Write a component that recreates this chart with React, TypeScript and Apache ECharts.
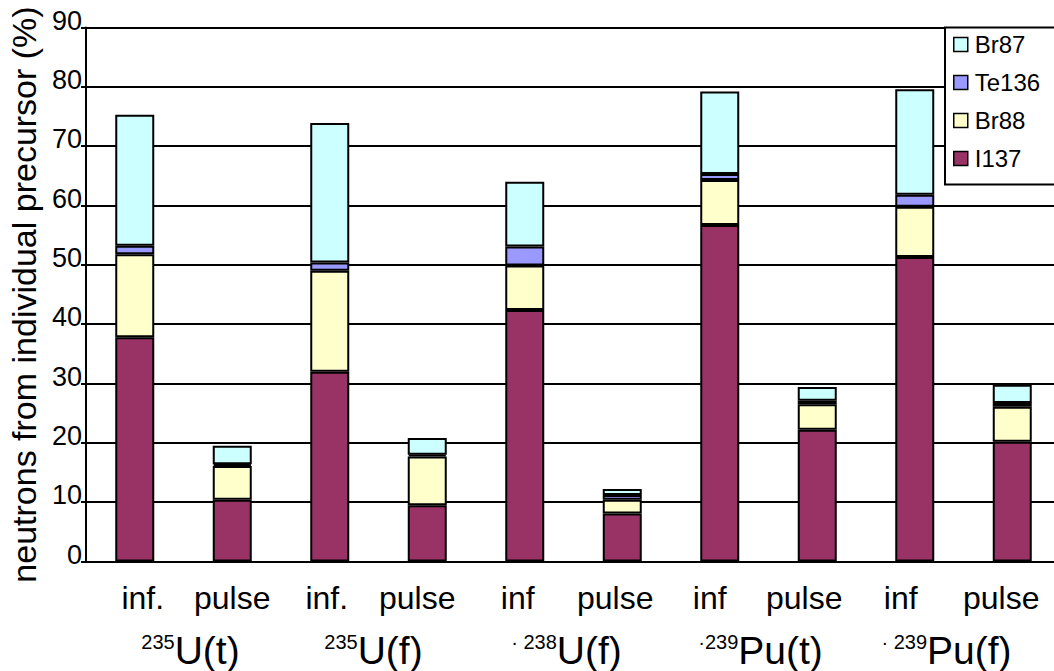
import React, { useEffect, useRef } from 'react';
import * as echarts from 'echarts';

const categories = ['inf.', 'pulse', 'inf.', 'pulse', 'inf', 'pulse', 'inf', 'pulse', 'inf', 'pulse'];
const categoryShift = [8, 0, -3, -10, -7, -7, -10, -13, -14, -11];
const groupIsotope = ['235', '235', '238', '239', '239'];
const groupTarget = ['U(t)', 'U(f)', 'U(f)', 'Pu(t)', 'Pu(f)'];
const groupDot = ['', '', '· ', '·', '· '];
const groupShift = [7, -5, -7, -8, -17];

const i137 = [37.8, 10.4, 32.0, 9.5, 42.4, 8.1, 56.7, 22.2, 51.3, 20.2];
const br88 = [14.0, 5.7, 17.0, 8.2, 7.5, 2.3, 7.6, 4.3, 8.5, 5.9];
const te136 = [1.4, 0.3, 1.4, 0.3, 3.2, 0.8, 1.0, 0.6, 2.0, 0.6];
const br87 = [22.1, 3.1, 23.5, 2.8, 10.9, 1.0, 13.9, 2.3, 17.8, 3.1];

const legendOrder = ['Br87', 'Te136', 'Br88', 'I137'];
const FONT = "'Liberation Sans', Arial, sans-serif";

function spacerStyles(shifts: number[]) {
  const rich: Record<string, any> = {};
  shifts.forEach((s) => {
    const w = Math.abs(s) * 2;
    if (w > 0) rich['p' + w] = { width: w, fontSize: 8, lineHeight: 8, fontFamily: FONT };
  });
  return rich;
}
function shifted(text: string, dx: number) {
  const w = Math.abs(dx) * 2;
  if (w === 0) return text;
  return dx > 0 ? '{p' + w + '| }' + text : text + '{p' + w + '| }';
}

export default function App() {
  const ref = useRef<HTMLDivElement>(null);
  useEffect(() => {
    const chart = echarts.init(ref.current!, null, { renderer: 'svg' });
    const barStyle = (color: string) => ({ color, borderColor: '#000', borderWidth: 2 });
    const mk = (name: string, data: number[], color: string) => ({
      name,
      type: 'bar',
      stack: 'total',
      data,
      barWidth: 39,
      itemStyle: barStyle(color),
      emphasis: { disabled: true },
    });
    chart.setOption({
      animation: false,
      backgroundColor: '#fff',
      textStyle: { fontFamily: FONT, color: '#000' },
      grid: { left: 86, top: 27.5, width: 975, height: 534, outerBoundsMode: 'none', containLabel: false },
      legend: {
        data: legendOrder,
        orient: 'vertical',
        left: 945,
        top: 27.5,
        padding: [5, 30, 14, 8],
        itemGap: 14,
        itemWidth: 14,
        itemHeight: 14,
        icon: 'rect',
        backgroundColor: '#fff',
        borderColor: '#000',
        borderWidth: 2,
        borderRadius: 0,
        selectedMode: false,
        textStyle: { fontSize: 24, color: '#000', fontFamily: FONT, padding: [0, 0, 0, 2] },
        itemStyle: { borderColor: '#000', borderWidth: 1.5 },
      },
      xAxis: [
        {
          type: 'category',
          data: categories,
          position: 'bottom',
          axisLine: { lineStyle: { color: '#000', width: 2 } },
          axisTick: { inside: true, length: 4, lineStyle: { color: '#000', width: 2 } },
          axisLabel: {
            color: '#000',
            fontSize: 32,
            fontFamily: FONT,
            margin: 20,
            interval: 0,
            formatter: (v: string, i: number) => shifted('{t|' + v + '}', categoryShift[i]),
            rich: {
              t: { fontSize: 32, fontFamily: FONT, color: '#000' },
              ...spacerStyles(categoryShift),
            },
          },
          splitLine: { show: false },
        },
        {
          type: 'category',
          data: groupTarget,
          position: 'bottom',
          axisLine: { show: false },
          axisTick: { show: false },
          splitLine: { show: false },
          axisLabel: {
            interval: 0,
            margin: 70,
            color: '#000',
            fontFamily: FONT,
            formatter: (_v: string, i: number) =>
              shifted(
                (groupDot[i] ? '{d|' + groupDot[i] + '}' : '') +
                  '{s|' + groupIsotope[i] + '}{b|' + groupTarget[i] + '}',
                groupShift[i]
              ),
            rich: {
              d: { fontSize: 20, verticalAlign: 'top', lineHeight: 18, fontFamily: FONT, color: '#000' },
              s: { fontSize: 20, verticalAlign: 'top', lineHeight: 18, fontFamily: FONT, color: '#000' },
              b: { fontSize: 39, verticalAlign: 'bottom', lineHeight: 38, fontFamily: FONT, color: '#000' },
              ...spacerStyles(groupShift),
            },
          },
        },
      ],
      yAxis: {
        type: 'value',
        min: 0,
        max: 90,
        interval: 10,
        name: 'neutrons from individual precursor (%)',
        nameLocation: 'middle',
        nameGap: 45,
        nameTextStyle: { fontSize: 34, color: '#000', fontFamily: FONT },
        axisLine: { show: true, lineStyle: { color: '#000', width: 2 } },
        axisTick: { show: true, length: 5, lineStyle: { color: '#000', width: 2 } },
        axisLabel: { fontSize: 27, color: '#000', fontFamily: FONT, margin: 4, verticalAlign: 'bottom', lineHeight: 14 },
        splitLine: { lineStyle: { color: '#000', width: 2 } },
      },
      series: [
        mk('I137', i137, '#993366'),
        mk('Br88', br88, '#FFFFCC'),
        mk('Te136', te136, '#9999FF'),
        mk('Br87', br87, '#CCFFFF'),
      ],
    });
    return () => chart.dispose();
  }, []);
  return (
    <div
      ref={ref}
      style={{ position: 'fixed', left: 0, top: 0, width: 1054, height: 671, background: '#fff' }}
    />
  );
}
